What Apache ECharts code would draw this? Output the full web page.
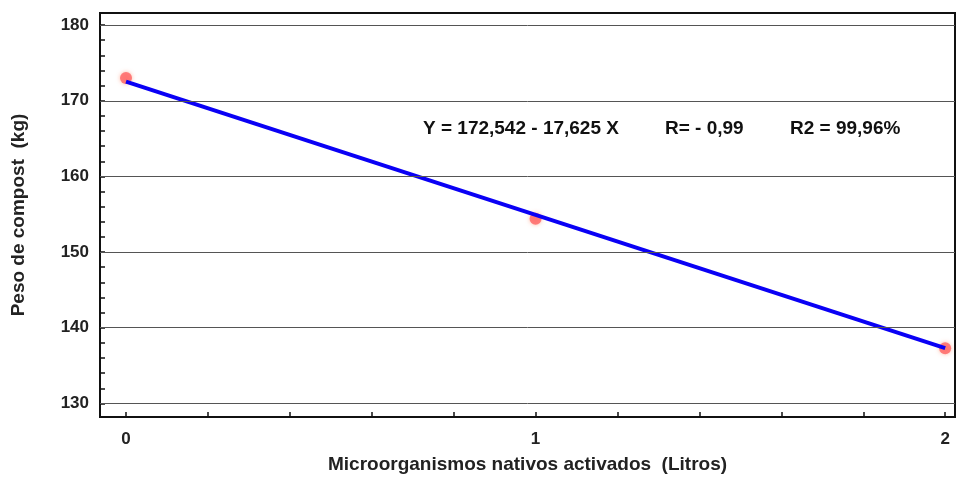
<!DOCTYPE html>
<html><head><meta charset="utf-8">
<script src="https://cdn.jsdelivr.net/npm/echarts@6/dist/echarts.min.js"></script>
<style>html,body{margin:0;padding:0;background:#fff}#c{width:959px;height:479px}</style>
</head><body><div id="c"></div>
<script>
const xObs = [0, 1, 2];
const yObs = [173.0, 154.4, 137.3];
const intercept = 172.542;
const slope = -17.625;
const xTickLabels = [0, 1, 2];
const xMinorTicks = [0, 0.2, 0.4, 0.6, 0.8, 1, 1.2, 1.4, 1.6, 1.8, 2];
const yTickLabels = [130, 140, 150, 160, 170, 180];
const yMinorTicks = [130,132,134,136,138,140,142,144,146,148,150,152,154,156,158,160,162,164,166,168,170,172,174,176,178,180];
const equationParts = ['Y = 172,542 - 17,625 X', 'R= - 0,99', 'R2 = 99,96%'];
const xTitle = 'Microorganismos nativos activados  (Litros)';
const yTitle = 'Peso de compost  (kg)';

const fitLine = [[xObs[0], intercept + slope * xObs[0]], [xObs[2], intercept + slope * xObs[2]]];
const eqStyle = {fill: '#111', font: 'bold 19px "Liberation Sans"'};

const chart = echarts.init(document.getElementById('c'));
chart.setOption({
  backgroundColor: '#fff',
  animation: false,
  grid: {left: 100, right: 4, top: 13, bottom: 61, show: true, borderColor: '#111', borderWidth: 2},
  xAxis: {
    type: 'value', min: -0.0635, max: 2.024,
    axisLine: {show: true, onZero: false, lineStyle: {color: '#111', width: 2}},
    axisTick: {show: true, inside: true, length: 5, customValues: xMinorTicks, lineStyle: {color: '#111', width: 1.5}},
    axisLabel: {customValues: xTickLabels, color: '#222', fontFamily: 'Liberation Sans', fontWeight: 'bold', fontSize: 17, margin: 14},
    splitLine: {show: false},
    name: xTitle, nameLocation: 'middle', nameGap: 38,
    nameTextStyle: {color: '#222', fontFamily: 'Liberation Sans', fontWeight: 'bold', fontSize: 19}
  },
  yAxis: {
    type: 'value', min: 128.2, max: 181.6,
    axisLine: {show: true, onZero: false, lineStyle: {color: '#111', width: 2}},
    axisTick: {show: true, inside: true, length: 5, customValues: yMinorTicks, lineStyle: {color: '#111', width: 1.5}},
    axisLabel: {customValues: yTickLabels, color: '#222', fontFamily: 'Liberation Sans', fontWeight: 'bold', fontSize: 17, margin: 11},
    splitLine: {show: false},
    name: yTitle, nameLocation: 'middle', nameGap: 72,
    nameTextStyle: {color: '#222', fontFamily: 'Liberation Sans', fontWeight: 'bold', fontSize: 19}
  },
  graphic: [
    {type: 'text', left: 423, top: 119, style: Object.assign({text: equationParts[0]}, eqStyle)},
    {type: 'text', left: 665, top: 119, style: Object.assign({text: equationParts[1]}, eqStyle)},
    {type: 'text', left: 790, top: 119, style: Object.assign({text: equationParts[2]}, eqStyle)}
  ],
  series: [
    {
      type: 'scatter', data: xObs.map((x, i) => [x, yObs[i]]),
      symbolSize: 12, itemStyle: {color: '#ff6a6a', opacity: 0.85, shadowBlur: 4, shadowColor: 'rgba(255,120,80,0.6)'},
      z: 2,
      markLine: {
        silent: true, symbol: 'none', label: {show: false},
        lineStyle: {color: '#555', width: 1, type: 'solid'},
        data: yTickLabels.map(v => ({yAxis: v}))
      }
    },
    {
      type: 'line', data: fitLine, showSymbol: false, symbol: 'none',
      lineStyle: {color: '#0a00f5', width: 4}, z: 3
    }
  ]
});
</script></body></html>
